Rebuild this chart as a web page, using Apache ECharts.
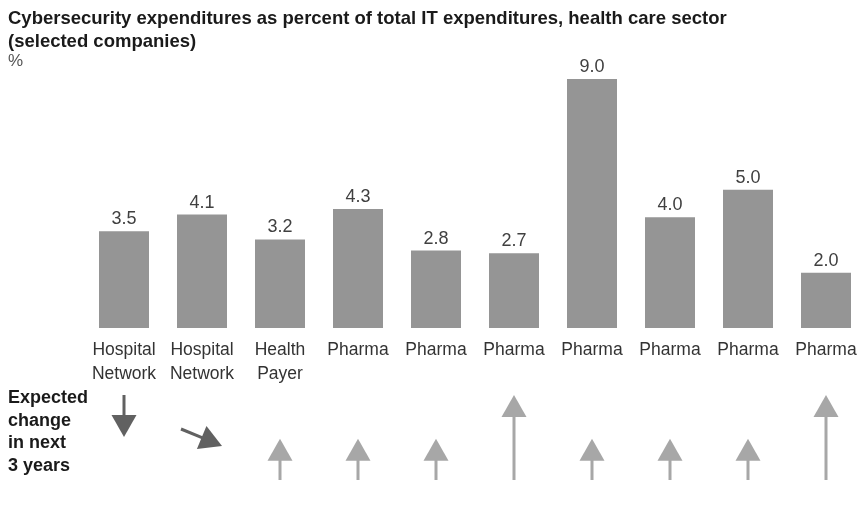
<!DOCTYPE html>
<html>
<head>
<meta charset="utf-8">
<script src="https://cdn.jsdelivr.net/npm/echarts@6/dist/echarts.min.js"></script>
<style>
  html, body { margin: 0; padding: 0; background: #fff; }
  #chart { width: 865px; height: 510px; }
</style>
</head>
<body>
<div id="chart"></div>
<script>
// Companies shown along the x axis
const categories = [
  'Hospital\nNetwork', 'Hospital\nNetwork', 'Health\nPayer',
  'Pharma', 'Pharma', 'Pharma', 'Pharma', 'Pharma', 'Pharma', 'Pharma'
];
// Cybersecurity spend as % of total IT spend
const spendPct = [3.5, 4.1, 3.2, 4.3, 2.8, 2.7, 9.0, 4.0, 5.0, 2.0];
// Expected change over the next 3 years
const expectedChange = ['down', 'slightDown', 'up', 'up', 'up', 'strongUp', 'up', 'up', 'up', 'strongUp'];

const FONT = '"Liberation Sans", Arial, Helvetica, sans-serif';

// Arrow geometry per change type, in the lower grid's value space (0 = bottom, 1 = top)
const arrowSpec = {
  down:       { x0: 0,   y0: 1.0,  x1: 0,  y1: 0.505, color: '#616161' },
  slightDown: { x0: -21, y0: 0.6,  x1: 20, y1: 0.40,  color: '#616161' },
  up:         { x0: 0,   y0: 0.0,  x1: 0,  y1: 0.485, color: '#a7a7a7' },
  strongUp:   { x0: 0,   y0: 0.0,  x1: 0,  y1: 1.0,   color: '#a7a7a7' }
};

function renderArrow(params, api) {
  const idx = api.value(0);
  const spec = arrowSpec[expectedChange[idx]];
  const p0 = api.coord([idx, spec.y0]);
  const p1 = api.coord([idx, spec.y1]);
  const sx = p0[0] + spec.x0, sy = p0[1];
  const tx = p1[0] + spec.x1, ty = p1[1];
  const dx = tx - sx, dy = ty - sy;
  const len = Math.sqrt(dx * dx + dy * dy);
  const ux = dx / len, uy = dy / len;
  const headLen = 22, headHalf = 12.5;
  const bx = tx - ux * headLen, by = ty - uy * headLen;
  const nx = -uy, ny = ux;
  return {
    type: 'group',
    children: [
      {
        type: 'line',
        shape: { x1: sx, y1: sy, x2: bx + ux * 1, y2: by + uy * 1 },
        style: { stroke: spec.color, lineWidth: 3 }
      },
      {
        type: 'polygon',
        shape: { points: [[tx, ty], [bx + nx * headHalf, by + ny * headHalf], [bx - nx * headHalf, by - ny * headHalf]] },
        style: { fill: spec.color }
      }
    ]
  };
}

const chart = echarts.init(document.getElementById('chart'), null, { renderer: 'canvas' });
chart.setOption({
  animation: false,
  backgroundColor: '#ffffff',
  textStyle: { fontFamily: FONT },
  title: {
    text: 'Cybersecurity expenditures as percent of total IT expenditures, health care sector\n(selected companies)',
    left: 3,
    top: 2,
    textStyle: { fontFamily: FONT, fontSize: 18.5, fontWeight: 'bold', color: '#1a1a1a', lineHeight: 23 }
  },
  graphic: [
    {
      type: 'text', left: 8, top: 53,
      style: { text: '%', font: '17px ' + FONT, fill: '#555555' }
    },
    {
      type: 'text', left: 8, top: 387,
      style: {
        text: 'Expected\nchange\nin next\n3 years',
        font: 'bold 18px ' + FONT, fill: '#1a1a1a', lineHeight: 22.5
      }
    }
  ],
  grid: [
    { left: 85, right: -5, top: 79, bottom: 182 },
    { left: 85, right: -5, top: 395, bottom: 30 }
  ],
  xAxis: [
    {
      type: 'category', gridIndex: 0, data: categories,
      axisLine: { show: false }, axisTick: { show: false },
      axisLabel: { color: '#333333', fontSize: 17.5, lineHeight: 24, margin: 10, fontFamily: FONT, interval: 0 }
    },
    {
      type: 'category', gridIndex: 1, data: categories,
      axisLine: { show: false }, axisTick: { show: false }, axisLabel: { show: false }
    }
  ],
  yAxis: [
    { type: 'value', gridIndex: 0, min: 0, max: 9, show: false, splitLine: { show: false } },
    { type: 'value', gridIndex: 1, min: 0, max: 1, show: false, splitLine: { show: false } }
  ],
  series: [
    {
      type: 'bar', xAxisIndex: 0, yAxisIndex: 0,
      data: spendPct, barWidth: 50,
      itemStyle: { color: '#959595' },
      label: {
        show: true, position: 'top', distance: 3,
        fontSize: 18, color: '#404040', fontFamily: FONT,
        formatter: p => p.value.toFixed(1)
      }
    },
    {
      type: 'custom', xAxisIndex: 1, yAxisIndex: 1,
      data: expectedChange.map((c, i) => [i, 0]),
      renderItem: renderArrow,
      silent: true
    }
  ]
});
</script>
</body>
</html>
